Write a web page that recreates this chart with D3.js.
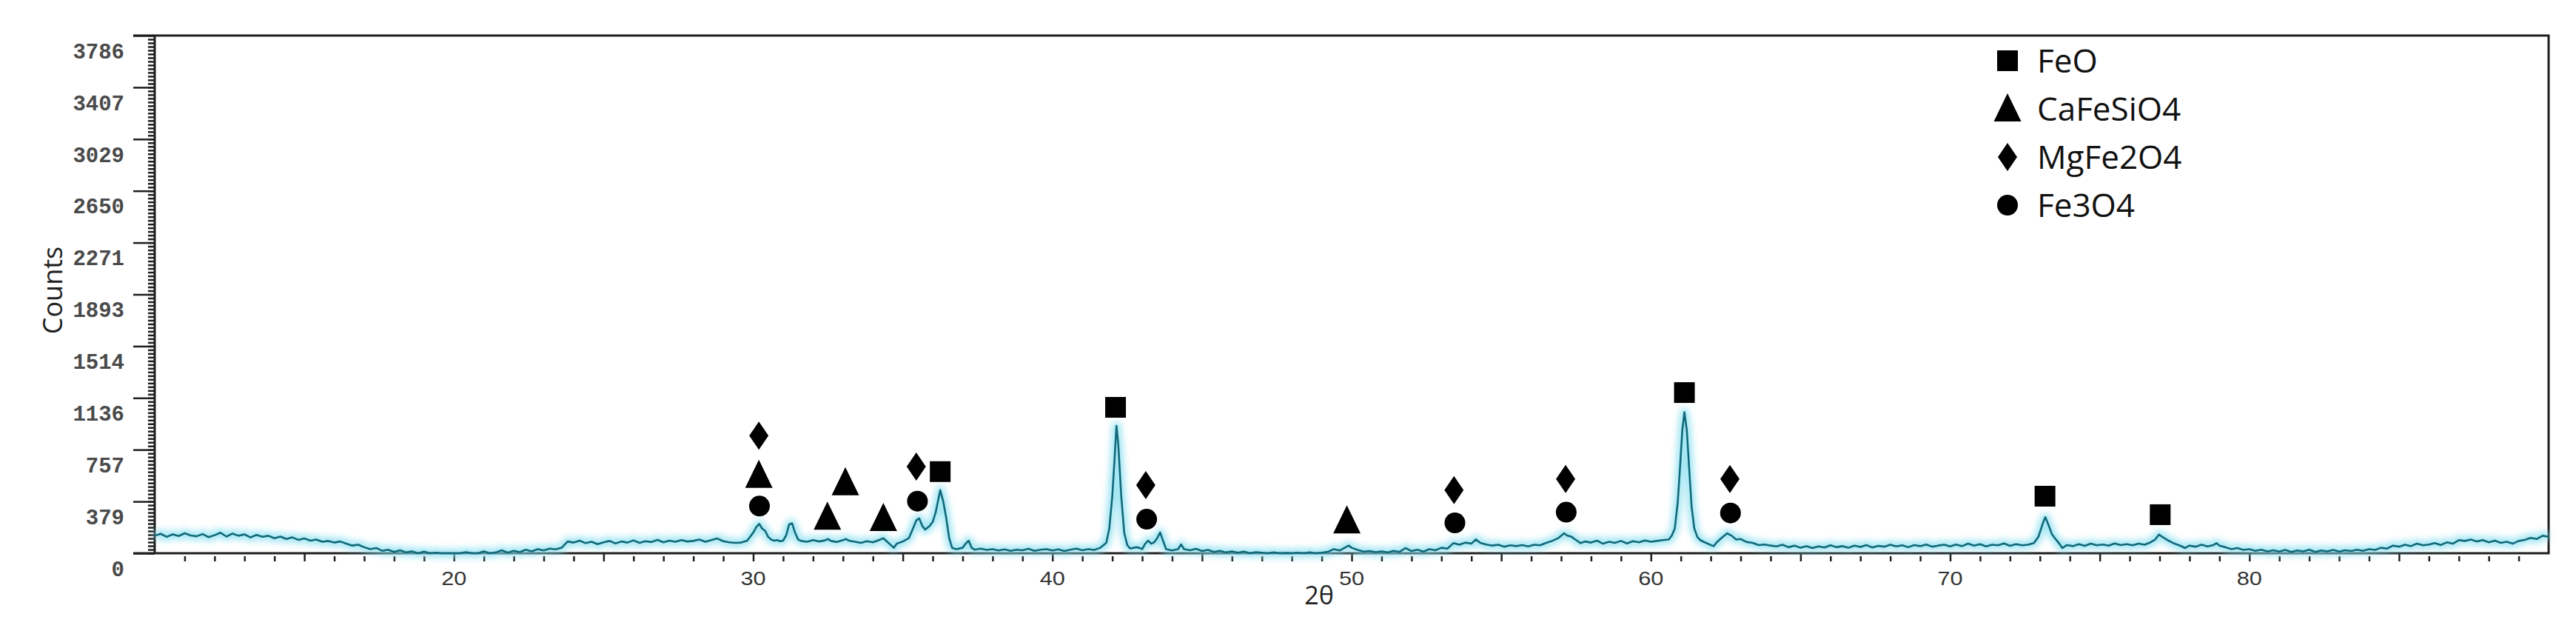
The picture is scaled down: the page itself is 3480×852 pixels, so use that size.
<!DOCTYPE html>
<html>
<head>
<meta charset="utf-8">
<script src="https://d3js.org/d3.v7.min.js"></script>
<style>
    body { margin: 0; background: #fff; }
    .axis path { display: none; }
    .axis line { stroke: #1e1e1e; stroke-width: 2.5; }
</style>
</head>
<body>
<svg id="xrd" width="3480" height="852"></svg>
<script>
// measured pattern, [2theta, counts]
var scan = [
    [10.0,128],[10.2,142],[10.4,120],[10.6,138],[10.8,126],[11.0,146],[11.2,130],[11.4,124],[11.6,140],[11.8,118],
    [12.0,132],[12.2,150],[12.4,122],[12.6,144],[12.8,128],[13.0,138],[13.2,116],[13.4,134],[13.6,120],[13.8,128],
    [14.0,110],[14.2,122],[14.4,104],[14.6,116],[14.8,98],[15.0,108],[15.2,92],[15.4,100],[15.6,84],[15.8,90],
    [16.0,78],[16.2,86],[16.4,70],[16.6,56],[16.8,62],[17.0,44],[17.2,30],[17.4,38],[17.6,18],[17.8,26],
    [18.0,10],[18.2,22],[18.4,6],[18.6,14],[18.8,0],[19.0,12],[19.2,0],[19.4,4],[19.6,0],[19.8,0],
    [20.0,0],[20.2,0],[20.4,8],[20.6,0],[20.8,0],[21.0,14],[21.2,0],[21.4,6],[21.6,22],[21.8,4],
    [22.0,18],[22.2,8],[22.4,26],[22.6,14],[22.8,30],[23.0,20],[23.2,34],[23.4,28],[23.6,40],[23.8,86],
    [24.0,78],[24.2,92],[24.4,74],[24.6,84],[24.8,66],[25.0,80],[25.2,90],[25.4,72],[25.6,86],[25.8,78],
    [26.0,94],[26.2,76],[26.4,88],[26.6,82],[26.8,98],[27.0,80],[27.2,92],[27.4,84],[27.6,96],[27.8,86],
    [28.0,90],[28.2,100],[28.4,84],[28.6,96],[28.8,108],[29.0,88],[29.2,80],[29.4,76],[29.6,78],[29.8,92],
    [30.0,150],[30.1,190],[30.2,215],[30.3,180],[30.4,164],[30.5,120],[30.6,100],[30.7,92],[30.8,96],[30.9,88],
    [31.0,92],[31.1,130],[31.2,210],[31.3,219],[31.4,150],[31.5,101],[31.6,90],[31.8,84],[32.0,96],[32.2,86],
    [32.4,94],[32.5,104],[32.6,90],[32.8,82],[33.0,96],[33.1,104],[33.2,92],[33.4,84],[33.6,76],[33.8,88],
    [34.0,80],[34.2,96],[34.35,110],[34.5,80],[34.7,40],[34.8,70],[35.0,86],[35.2,110],[35.3,160],[35.45,240],
    [35.55,255],[35.65,200],[35.75,173],[35.9,200],[36.0,230],[36.1,300],[36.25,462],[36.35,380],[36.45,260],[36.55,110],
    [36.65,38],[36.8,30],[37.0,40],[37.1,70],[37.2,92],[37.3,40],[37.4,26],[37.6,34],[37.8,24],[38.0,30],
    [38.2,20],[38.4,28],[38.6,18],[38.8,26],[39.0,22],[39.2,32],[39.4,18],[39.6,26],[39.8,30],[40.0,20],
    [40.2,28],[40.4,16],[40.6,26],[40.8,34],[41.0,22],[41.2,30],[41.4,24],[41.6,40],[41.8,76],[41.9,180],
    [42.0,417],[42.08,700],[42.14,932],[42.2,800],[42.3,417],[42.4,150],[42.5,60],[42.6,34],[42.8,44],[42.9,40],
    [43.0,30],[43.1,70],[43.2,92],[43.3,70],[43.4,80],[43.5,110],[43.6,152],[43.7,90],[43.8,30],[44.0,20],
    [44.2,30],[44.3,65],[44.4,30],[44.6,22],[44.8,32],[45.0,16],[45.2,24],[45.4,10],[45.6,18],[45.8,6],
    [46.0,14],[46.2,4],[46.4,12],[46.6,0],[46.8,8],[47.0,4],[47.2,0],[47.4,6],[47.6,0],[47.8,2],
    [48.0,0],[48.2,4],[48.4,0],[48.6,6],[48.8,0],[49.0,4],[49.2,10],[49.4,30],[49.6,20],[49.8,44],
    [49.9,56],[50.0,40],[50.2,24],[50.4,12],[50.6,16],[50.8,8],[51.0,14],[51.2,6],[51.4,18],[51.6,10],
    [51.8,38],[52.0,16],[52.2,26],[52.4,12],[52.6,30],[52.8,22],[53.0,40],[53.2,34],[53.4,74],[53.6,62],
    [53.8,78],[54.0,70],[54.15,101],[54.3,76],[54.5,64],[54.7,56],[54.9,62],[55.1,48],[55.3,58],[55.5,52],
    [55.7,60],[55.9,50],[56.1,62],[56.3,58],[56.5,76],[56.7,90],[56.9,110],[57.1,146],[57.2,130],[57.35,120],
    [57.5,96],[57.65,74],[57.8,86],[58.0,78],[58.2,92],[58.4,70],[58.6,84],[58.8,76],[59.0,90],[59.2,72],
    [59.4,88],[59.6,80],[59.8,94],[60.0,84],[60.2,90],[60.4,96],[60.6,100],[60.7,130],[60.8,182],[60.9,380],
    [60.97,616],[61.05,900],[61.12,1031],[61.2,900],[61.28,616],[61.36,340],[61.45,182],[61.55,120],[61.65,96],[61.8,80],
    [62.0,60],[62.1,52],[62.2,80],[62.35,110],[62.55,146],[62.7,128],[62.85,100],[63.0,104],[63.2,82],[63.4,76],
    [63.6,60],[63.8,64],[64.0,56],[64.2,50],[64.4,62],[64.6,44],[64.8,56],[65.0,40],[65.2,52],[65.4,38],
    [65.6,50],[65.8,42],[66.0,58],[66.2,44],[66.4,52],[66.6,40],[66.8,56],[67.0,46],[67.2,60],[67.4,42],
    [67.6,54],[67.8,48],[68.0,62],[68.2,50],[68.4,58],[68.6,44],[68.8,60],[69.0,52],[69.2,64],[69.4,48],
    [69.6,56],[69.8,62],[70.0,50],[70.2,64],[70.4,52],[70.6,70],[70.8,56],[71.0,66],[71.2,50],[71.4,62],
    [71.6,58],[71.8,72],[72.0,54],[72.2,66],[72.4,58],[72.6,62],[72.8,74],[72.95,120],[73.1,220],[73.18,264],
    [73.3,200],[73.4,140],[73.5,110],[73.65,70],[73.75,38],[73.9,60],[74.1,52],[74.3,66],[74.5,54],[74.7,70],
    [74.9,58],[75.1,64],[75.3,56],[75.5,72],[75.7,60],[75.9,66],[76.1,58],[76.3,70],[76.5,62],[76.7,80],
    [76.85,100],[76.98,137],[77.1,118],[77.3,92],[77.5,70],[77.7,54],[77.85,38],[78.0,56],[78.2,48],[78.4,62],
    [78.6,50],[78.8,60],[78.9,74],[79.0,56],[79.2,44],[79.4,30],[79.6,38],[79.8,24],[80.0,30],[80.2,18],
    [80.4,26],[80.6,14],[80.8,22],[81.0,12],[81.2,24],[81.4,10],[81.6,20],[81.8,14],[82.0,26],[82.2,10],
    [82.4,20],[82.6,14],[82.8,24],[83.0,12],[83.2,22],[83.4,16],[83.6,26],[83.8,18],[84.0,30],[84.2,24],
    [84.4,40],[84.6,34],[84.8,56],[85.0,48],[85.2,62],[85.4,52],[85.6,70],[85.8,58],[86.0,64],[86.2,74],
    [86.4,60],[86.6,80],[86.8,70],[87.0,96],[87.2,90],[87.4,100],[87.6,86],[87.8,96],[88.0,80],[88.2,92],
    [88.4,76],[88.6,84],[88.8,70],[89.0,90],[89.2,98],[89.4,112],[89.6,104],[89.8,128],[90.0,120]
];

var yTickLabels = ["0", "379", "757", "1136", "1514", "1893", "2271", "2650", "3029", "3407", "3786"];
var yStep = 378.6;
var xTickLabels = [20, 30, 40, 50, 60, 70, 80];

// phase markers, [2theta, counts] at the symbol centre
var feoMarks = [[36.25, 597], [42.11, 1067], [61.12, 1175], [73.17, 417], [77.02, 282]];
var cafesio4Marks = [[30.19, 570], [32.48, 264], [33.08, 516], [34.35, 255], [49.84, 237]];
var mgfe2o4Marks = [[30.19, 860], [35.45, 634], [43.12, 498], [53.42, 462], [57.15, 543], [62.64, 543]];
var fe3o4Marks = [[30.21, 345], [35.49, 381], [43.15, 249], [53.45, 222], [57.17, 300], [62.66, 294]];

var legendLabels = ["FeO", "CaFeSiO4", "MgFe2O4", "Fe3O4"];
var legendShapes = ["square", "triangle", "diamond", "circle"];

var margin = { top: 48, right: 37, bottom: 105, left: 209 },
    W = 3480, H = 852;

var svg = d3.select("#xrd");

var x = d3.scaleLinear().domain([10, 90]).range([margin.left, W - margin.right]);
var y = d3.scaleLinear().domain([0, 3786]).range([H - margin.bottom, margin.top]);

var defs = svg.append("defs");
defs.append("filter").attr("id", "glow")
    .attr("x", "-5%").attr("y", "-50%").attr("width", "110%").attr("height", "200%")
    .append("feGaussianBlur").attr("stdDeviation", 4);

// y axis: dense minor ticks, major ticks with labels sitting under the tick
var majorY = yTickLabels.map((d, i) => i * yStep);
var minorY = d3.range(0, 141).map(i => i * yStep / 14);

svg.append("g")
    .attr("class", "axis")
    .attr("transform", "translate(" + margin.left + ",0)")
    .call(d3.axisLeft(y).tickValues(minorY).tickSize(9).tickFormat(""));

var yAxis = svg.append("g")
    .attr("class", "axis")
    .attr("transform", "translate(" + margin.left + ",0)")
    .call(d3.axisLeft(y).tickValues(majorY).tickSize(29).tickPadding(12)
        .tickFormat((d, i) => yTickLabels[i]));
yAxis.selectAll("text")
    .attr("y", 21)
    .style("font-family", "'Liberation Mono', 'DejaVu Sans Mono', monospace")
    .style("font-size", "29px")
    .style("font-weight", "bold")
    .style("fill", "#4a4a4a");

// x axis: minor every degree (detached from the axis), major every 5
var minorX = d3.range(11, 90).filter(d => d % 5 != 0);
var majorX = d3.range(15, 90, 5);

svg.append("g")
    .attr("class", "axis")
    .attr("transform", "translate(0," + (H - margin.bottom + 4) + ")")
    .call(d3.axisBottom(x).tickValues(minorX).tickSize(7).tickFormat(""));

svg.append("g")
    .attr("class", "axis")
    .attr("transform", "translate(0," + (H - margin.bottom) + ")")
    .call(d3.axisBottom(x).tickValues(majorX).tickSize(11).tickFormat(""));

svg.append("g")
    .selectAll("text")
    .data(xTickLabels)
    .enter()
    .append("text")
    .attr("transform", d => "translate(" + x(d) + "," + (H - margin.bottom + 43) + ") scale(1.18,1)")
    .attr("text-anchor", "middle")
    .style("font-family", "'Liberation Sans', Arial, sans-serif")
    .style("font-size", "26px")
    .style("fill", "#333")
    .text(d => d);

// frame
var x0 = margin.left, x1 = W - margin.right, y0 = H - margin.bottom, y1 = margin.top;
svg.append("path")
    .attr("d", "M" + (x0 - 29) + "," + y1 + "H" + x1 + "V" + y0 + "H" + (x0 - 29) + "M" + x0 + "," + y1 + "V" + y0)
    .attr("fill", "none")
    .attr("stroke", "#1e1e1e")
    .attr("stroke-width", 3);

// the scan: pale cyan halo under a dark teal trace
var line = d3.line().x(d => x(d[0])).y(d => y(d[1]));

svg.append("path")
    .datum(scan)
    .attr("fill", "none")
    .attr("stroke", "#86dff0")
    .attr("stroke-width", 12)
    .attr("stroke-linejoin", "round")
    .attr("opacity", 0.75)
    .attr("filter", "url(#glow)")
    .attr("d", line);

svg.append("path")
    .datum(scan)
    .attr("fill", "none")
    .attr("stroke", "#10697a")
    .attr("stroke-width", 2.6)
    .attr("stroke-linejoin", "round")
    .attr("d", line);

// marker shapes
function shapePath(type) {
    if (type == "square") return "M-14,-14H14V14H-14Z";
    if (type == "triangle") return "M0,-21L18.5,17H-18.5Z";
    if (type == "diamond") return "M0,-19L13,0L0,19L-13,0Z";
    return d3.symbol().type(d3.symbolCircle).size(Math.PI * 14 * 14)();
}

var phases = [
    { marks: feoMarks, shape: "square" },
    { marks: cafesio4Marks, shape: "triangle" },
    { marks: mgfe2o4Marks, shape: "diamond" },
    { marks: fe3o4Marks, shape: "circle" }
];

phases.forEach(p => {
    svg.append("g")
        .selectAll("path")
        .data(p.marks)
        .enter()
        .append("path")
        .attr("transform", d => "translate(" + x(d[0]) + "," + y(d[1]) + ")")
        .attr("d", shapePath(p.shape))
        .attr("fill", "#000");
});

// legend
var legend = svg.append("g")
    .selectAll("g")
    .data(legendLabels)
    .enter()
    .append("g")
    .attr("transform", (d, i) => "translate(2712," + (82 + i * 65) + ")");

legend.append("path")
    .attr("d", (d, i) => shapePath(legendShapes[i]))
    .attr("fill", "#000");

legend.append("text")
    .attr("x", 40)
    .attr("dy", "0.36em")
    .style("font-family", "'Open Sans', sans-serif")
    .style("font-size", "44px")
    .style("fill", "#111")
    .text(d => d);

// axis titles
svg.append("text")
    .attr("transform", "translate(84,392) rotate(-90)")
    .attr("text-anchor", "middle")
    .style("font-family", "'Open Sans', sans-serif")
    .style("font-size", "36px")
    .style("fill", "#222")
    .text("Counts");

svg.append("text")
    .attr("x", 1782)
    .attr("y", 816)
    .attr("text-anchor", "middle")
    .style("font-family", "'Open Sans', sans-serif")
    .style("font-size", "34px")
    .style("fill", "#222")
    .text("2θ");
</script>
</body>
</html>
